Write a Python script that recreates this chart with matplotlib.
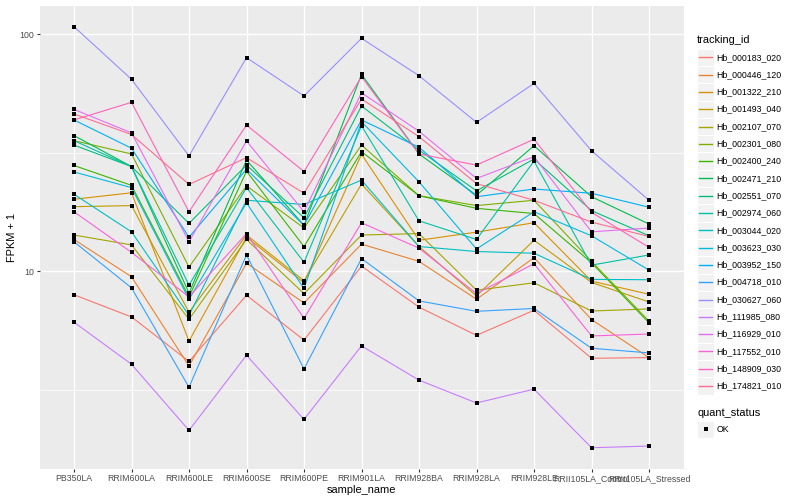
import matplotlib
matplotlib.use("Agg")
import matplotlib.pyplot as plt
import numpy as np
from matplotlib.patches import Rectangle
from matplotlib.lines import Line2D
from matplotlib.ticker import FixedLocator, FixedFormatter, NullFormatter

plt.rcParams["font.family"] = ["Liberation Sans", "DejaVu Sans"]

# サンプル名
samples = ["PB350LA", "RRIM600LA", "RRIM600LE", "RRIM600SE", "RRIM600PE",
           "RRIM901LA", "RRIM928BA", "RRIM928LA", "RRIM928LE",
           "RRII105LA_Control", "RRII105LA_Stressed"]

tracking_ids = ["Hb_000183_020", "Hb_000446_120", "Hb_001322_210", "Hb_001493_040",
                "Hb_002107_070", "Hb_002301_080", "Hb_002400_240", "Hb_002471_210",
                "Hb_002551_070", "Hb_002974_060", "Hb_003044_020", "Hb_003623_030",
                "Hb_003952_150", "Hb_004718_010", "Hb_030627_060", "Hb_111985_080",
                "Hb_116929_010", "Hb_117552_010", "Hb_148909_030", "Hb_174821_010"]

# FPKM + 1
hb_000183_020 = [7.95, 6.41, 4.16, 7.91, 5.12, 10.5, 7.05, 5.36, 6.84, 4.29, 4.32]
hb_000446_120 = [13.6, 9.47, 3.98, 10.8, 7.34, 13.0, 11.0, 7.61, 11.4, 6.25, 4.32]
hb_001322_210 = [20.1, 21.4, 5.07, 13.9, 8.93, 31.1, 13.5, 14.6, 16.0, 9.08, 7.99]
hb_001493_040 = [18.7, 18.9, 6.71, 14.2, 9.11, 23.3, 12.7, 7.86, 13.5, 8.96, 7.41]
hb_002107_070 = [14.2, 12.9, 6.27, 13.6, 8.04, 14.2, 14.4, 8.31, 8.93, 6.79, 6.93]
hb_002301_080 = [35.5, 31.2, 10.4, 22.9, 15.2, 34.0, 20.8, 18.9, 19.9, 11.0, 6.15]
hb_002400_240 = [27.9, 23.0, 7.79, 26.4, 12.7, 31.9, 20.8, 18.4, 17.5, 10.85, 6.05]
hb_002471_210 = [37.3, 27.6, 8.09, 29.4, 15.6, 67.6, 31.2, 20.9, 33.8, 20.6, 15.8]
hb_002551_070 = [34.0, 27.6, 15.9, 28.0, 16.8, 49.7, 32.4, 21.8, 29.7, 18.0, 14.1]
hb_002974_060 = [35.5, 27.6, 8.73, 22.5, 10.9, 41.0, 16.3, 13.6, 29.1, 10.6, 11.7]
hb_003044_020 = [21.1, 14.65, 6.51, 19.9, 19.1, 24.2, 12.7, 12.1, 11.9, 9.23, 9.2]
hb_003623_030 = [26.2, 22.5, 7.61, 19.4, 8.45, 42.7, 23.8, 12.4, 17.8, 14.1, 10.1]
hb_003952_150 = [43.4, 33.0, 13.9, 26.9, 15.6, 43.4, 33.3, 20.6, 22.2, 21.3, 18.6]
hb_004718_010 = [13.3, 8.5, 3.24, 11.7, 3.87, 11.3, 7.49, 6.77, 6.96, 4.73, 4.52]
hb_030627_060 = [107.4, 64.4, 30.6, 79.5, 54.8, 95.9, 66.7, 42.4, 61.9, 32.2, 19.9]
hb_111985_080 = [6.09, 4.05, 2.13, 4.42, 2.37, 4.84, 3.47, 2.78, 3.18, 1.80, 1.83]
hb_116929_010 = [48.1, 38.3, 13.3, 35.4, 17.8, 56.5, 38.9, 24.6, 30.4, 14.65, 15.2]
hb_117552_010 = [17.8, 12.0, 7.79, 14.4, 6.32, 16.0, 12.5, 8.04, 10.75, 5.33, 5.43]
hb_148909_030 = [43.4, 51.5, 17.8, 41.3, 26.3, 66.1, 31.2, 28.0, 36.0, 17.7, 12.6]
hb_174821_010 = [46.0, 37.7, 23.2, 30.1, 21.3, 53.2, 36.9, 23.4, 19.9, 16.1, 14.0]

series = [hb_000183_020, hb_000446_120, hb_001322_210, hb_001493_040, hb_002107_070,
          hb_002301_080, hb_002400_240, hb_002471_210, hb_002551_070, hb_002974_060,
          hb_003044_020, hb_003623_030, hb_003952_150, hb_004718_010, hb_030627_060,
          hb_111985_080, hb_116929_010, hb_117552_010, hb_148909_030, hb_174821_010]

# ggplot2 の hue パレット (20色)
colors = ["#F8766D", "#EA8331", "#D89000", "#C09B00", "#A3A500", "#7CAE00", "#39B600",
          "#00BB4E", "#00BF7D", "#00C1A3", "#00BFC4", "#00BAE0", "#00B0F6", "#35A2FF",
          "#9590FF", "#C77CFF", "#E76BF3", "#FA62DB", "#FF62BC", "#FF6C91"]

W, H = 800, 500
fig = plt.figure(figsize=(8, 5), dpi=100)
ax = fig.add_axes([39.5 / W, 1 - 468.8 / H, (683.5 - 39.5) / W, (468.8 - 5.6) / H])
ax.set_facecolor("#EBEBEB")

x = np.arange(len(samples))
for vals, c in zip(series, colors):
    ax.plot(x, vals, color=c, lw=0.8, zorder=3)
for vals in series:
    ax.plot(x, vals, ls="none", marker="s", ms=3.0, mew=0, color="black", zorder=4)

ax.set_yscale("log")
ax.set_xlim(-0.6, len(samples) - 0.4)
ax.margins(y=0.05)

# 目盛りとグリッド
ax.yaxis.set_major_locator(FixedLocator([10, 100]))
ax.yaxis.set_major_formatter(FixedFormatter(["10", "100"]))
ax.yaxis.set_minor_locator(FixedLocator([10 ** 0.5, 10 ** 1.5]))
ax.yaxis.set_minor_formatter(NullFormatter())
ax.set_xticks(x)
ax.set_xticklabels(samples)
ax.grid(True, which="major", color="white", lw=1.0, zorder=1)
ax.grid(True, which="minor", axis="y", color="white", lw=0.5, zorder=1)
ax.set_axisbelow(True)
ax.tick_params(which="major", length=2.2, width=0.8, color="#333333",
               labelsize=6.3, labelcolor="#4D4D4D", pad=1.5)
ax.tick_params(which="minor", length=0)
for s in ax.spines.values():
    s.set_visible(False)

fig.text(361.5 / W, 1 - 490 / H, "sample_name", ha="center", va="center", fontsize=7.9)
fig.text(12 / W, 1 - 237 / H, "FPKM + 1", ha="center", va="center", fontsize=7.9, rotation=90)

# 凡例
def px(xp, yp):
    return xp / W, 1 - yp / H

fig.text(*px(697, 40), "tracking_id", ha="left", va="center", fontsize=7.9)
for i, (tid, c) in enumerate(zip(tracking_ids, colors)):
    yc = 57.3 + 17.3 * i
    x0, y0 = px(697, yc + 8.6)
    fig.patches.append(Rectangle((x0, y0), 17 / W, 17.3 / H, transform=fig.transFigure,
                                 facecolor="#F2F2F2", edgecolor="white", lw=0.8, zorder=1))
    fig.lines.append(Line2D([699 / W, 712 / W], [1 - yc / H] * 2, transform=fig.transFigure,
                            color=c, lw=1.0, zorder=5))
    fig.text(*px(716.7, yc), tid, ha="left", va="center", fontsize=6.3)

fig.text(*px(697, 412.7), "quant_status", ha="left", va="center", fontsize=7.9)
x0, y0 = px(697, 429.3 + 8.6)
fig.patches.append(Rectangle((x0, y0), 17 / W, 17.3 / H, transform=fig.transFigure,
                             facecolor="#F2F2F2", edgecolor="white", lw=0.8, zorder=1))
fig.lines.append(Line2D([705.5 / W], [1 - 429.3 / H], transform=fig.transFigure,
                        marker="s", ms=3.0, mew=0, color="black", ls="none", zorder=5))
fig.text(*px(716.7, 429.3), "OK", ha="left", va="center", fontsize=6.3)

fig.savefig("out.png", dpi=100)
